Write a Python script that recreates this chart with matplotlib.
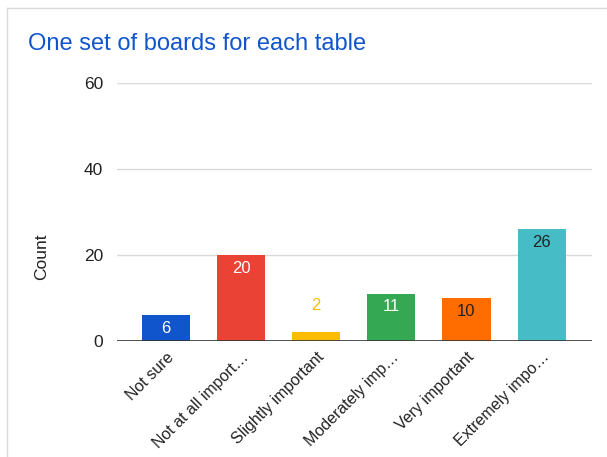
import matplotlib.pyplot as plt
from matplotlib.lines import Line2D

categories = ['Not sure', 'Not at all import…', 'Slightly important',
              'Moderately imp…', 'Very important', 'Extremely impo…']
counts = [6, 20, 2, 11, 10, 26]
colors = ['#1155CC', '#EA4335', '#FBBC04', '#34A853', '#FF6D01', '#46BDC6']
label_colors = ['white', 'white', '#FBBC04', 'white', '#222222', '#222222']
yticks = [0, 20, 40, 60]

plt.rcParams['font.family'] = ['Liberation Sans', 'DejaVu Sans']

fig = plt.figure(figsize=(6.07, 4.57), dpi=100)
ax = fig.add_axes([117/607, 116/457, 475/607, 258/457])

x = range(len(categories))
bars = ax.bar(x, counts, width=0.64, color=colors, zorder=3)

# value labels: inside the bar near the top, above it if the bar is short
for rect, v, lc in zip(bars, counts, label_colors):
    cx = rect.get_x() + rect.get_width() / 2
    if v < 4:
        ax.annotate(str(v), (cx, v), xytext=(0, 14), textcoords='offset points',
                    ha='center', va='bottom', fontsize=12, color=lc)
    else:
        ax.annotate(str(v), (cx, v), xytext=(0, -4), textcoords='offset points',
                    ha='center', va='top', fontsize=12, color=lc)

ax.set_xlim(-0.65, 5.67)
ax.set_ylim(0, 60)
ax.set_yticks(yticks)
ax.set_xticks(list(x))
ax.set_xticklabels(categories, rotation=45, ha='right', rotation_mode='anchor',
                   fontsize=11.5, color='#222222')
ax.tick_params(axis='y', length=0, pad=10, labelsize=12.5, labelcolor='#222222')
ax.tick_params(axis='x', length=0, pad=6)

ax.grid(axis='y', color='#d9d9d9', linewidth=1, zorder=0)
for s in ax.spines.values():
    s.set_visible(False)
ax.axhline(0, color='#333333', linewidth=1.2, zorder=4)

ax.set_ylabel('Count', fontsize=12.5, color='#222222')
ax.yaxis.set_label_coords(-0.142, 0.325)

fig.text(28/607, 1 - 44/457, 'One set of boards for each table', fontsize=17,
         color='#1155CC', va='center', ha='left')

# light frame around the chart
fig.add_artist(Line2D([7/607, 7/607], [0, 1 - 8/457], color='#dadada', lw=1))
fig.add_artist(Line2D([7/607, 1], [1 - 8/457, 1 - 8/457], color='#dadada', lw=1))

fig.savefig('out.png', dpi=100)
